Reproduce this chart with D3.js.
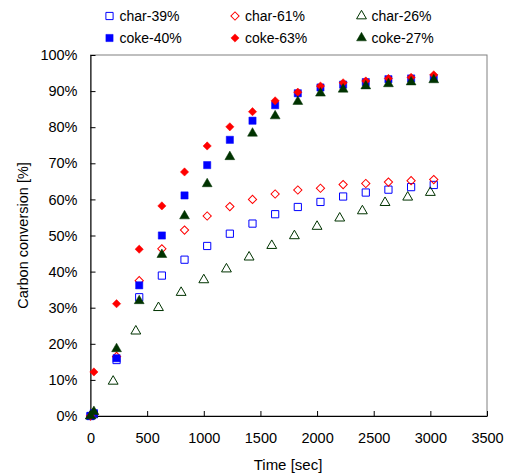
<!DOCTYPE html>
<html>
<head>
<meta charset="utf-8">
<script src="https://cdn.jsdelivr.net/npm/d3@7"></script>
<style>
  body { margin: 0; background: #fff; }
  text { font-family: "Liberation Sans", Arial, sans-serif; fill: #000; }
</style>
</head>
<body>
<div id="chart"></div>
<script>
// sampling times (sec)
const timeA = [0, 30, 230, 430, 630, 830, 1030, 1230, 1430, 1630, 1830, 2030, 2230, 2430, 2630, 2830, 3030];
const timeB = [0, 20, 200, 400, 600, 800, 1000, 1200, 1400, 1600, 1800, 2000, 2200, 2400, 2600, 2800, 3000];

// carbon conversion (%)
const char39 = [0, 0.5, 15.5, 32.9, 38.9, 43.3, 47.1, 50.5, 53.3, 55.9, 57.9, 59.3, 60.8, 61.9, 62.7, 63.4, 64.0];
const char61 = [0, 0.5, 16.5, 37.5, 46.3, 51.5, 55.4, 58.0, 60.0, 61.5, 62.6, 63.1, 64.1, 64.4, 64.8, 65.2, 65.5];
const char26 = [0, 0.5, 9.6, 23.5, 30.0, 34.2, 37.7, 40.7, 44.0, 47.2, 49.9, 52.5, 54.8, 56.8, 59.1, 60.6, 61.9];
const coke40 = [0, 0.8, 16.0, 36.2, 50.0, 61.1, 69.5, 76.5, 81.8, 86.1, 89.4, 91.0, 91.8, 92.5, 93.3, 93.5, 93.6];
const coke63 = [0, 12.2, 31.1, 46.2, 58.2, 67.6, 74.8, 80.1, 84.3, 87.3, 89.7, 91.4, 92.3, 92.8, 93.5, 93.8, 94.5];
const coke27 = [0, 1.2, 18.6, 31.9, 44.7, 55.4, 64.3, 71.8, 78.3, 83.1, 87.1, 89.4, 90.5, 91.4, 92.0, 92.5, 93.1];

const xTicks = [0, 500, 1000, 1500, 2000, 2500, 3000, 3500];
const yTicks = [0, 10, 20, 30, 40, 50, 60, 70, 80, 90, 100];

const series = [
  {name: "char-39%", t: timeA, v: char39, shape: "square", color: "#0000ff", filled: false},
  {name: "char-61%", t: timeA, v: char61, shape: "diamond", color: "#ff0000", filled: false},
  {name: "char-26%", t: timeB, v: char26, shape: "triangle", color: "#003300", filled: false},
  {name: "coke-40%", t: timeA, v: coke40, shape: "square", color: "#0000ff", filled: true},
  {name: "coke-63%", t: timeA, v: coke63, shape: "diamond", color: "#ff0000", filled: true},
  {name: "coke-27%", t: timeA, v: coke27, shape: "triangle", color: "#003300", filled: true}
];

const W = 507, H = 476;
const margin = {top: 55, right: 20, bottom: 60, left: 90.5};
const width = W - margin.left - margin.right,
      height = H - margin.top - margin.bottom;

const svg = d3.select("#chart").append("svg")
  .attr("width", W).attr("height", H);

const g = svg.append("g")
  .attr("transform", "translate(" + margin.left + "," + margin.top + ")");

const x = d3.scaleLinear().domain([0, 3500]).range([0, width]);
const y = d3.scaleLinear().domain([0, 100]).range([height, 0]);

// plot frame
g.append("rect")
  .attr("x", 0).attr("y", 0)
  .attr("width", width).attr("height", height)
  .attr("fill", "none").attr("stroke", "#808080").attr("stroke-width", 1);

// axes, ticks pointing inward
const xAxis = g.append("g")
  .attr("transform", "translate(0," + height + ")")
  .call(d3.axisBottom(x).tickValues(xTicks).tickSizeInner(-5).tickSizeOuter(0).tickPadding(17)
    .tickFormat(d3.format("d")));
const yAxis = g.append("g")
  .call(d3.axisLeft(y).tickValues(yTicks).tickSizeInner(-5).tickSizeOuter(0).tickPadding(13)
    .tickFormat(function(d) { return d + "%"; }));

[xAxis, yAxis].forEach(function(a) {
  a.select(".domain").attr("stroke", "#000");
  a.selectAll(".tick line").attr("stroke", "#000");
  a.selectAll("text").attr("font-size", 14.5).attr("font-family", "Liberation Sans, Arial, sans-serif");
});

// axis titles
svg.append("text")
  .attr("x", 288).attr("y", 470)
  .attr("text-anchor", "middle").attr("font-size", 15)
  .text("Time [sec]");

svg.append("text")
  .attr("transform", "translate(28," + (margin.top + height / 2) + ") rotate(-90)")
  .attr("text-anchor", "middle").attr("font-size", 14.5)
  .text("Carbon conversion [%]");

// marker builder
function marker(sel, shape) {
  if (shape === "square") {
    sel.attr("d", d3.symbol().type(d3.symbolSquare).size(52)());
  } else if (shape === "diamond") {
    sel.attr("d", d3.symbol().type(d3.symbolSquare).size(34)());
  } else {
    sel.attr("d", d3.symbol().type(d3.symbolTriangle).size(42)());
  }
}

function styleMarker(sel, s) {
  sel.attr("fill", s.filled ? s.color : "none")
     .attr("stroke", s.color)
     .attr("stroke-width", s.filled ? 0.5 : 1);
}

series.forEach(function(s) {
  const pts = s.t.map(function(t, i) { return {t: t, v: s.v[i]}; });
  const rot = s.shape === "diamond" ? " rotate(45)" : "";
  g.append("g").selectAll("path")
    .data(pts)
    .enter()
    .append("path")
      .call(marker, s.shape)
      .call(styleMarker, s)
      .attr("transform", function(d) {
        return "translate(" + x(d.t) + "," + y(d.v) + ")" + rot;
      });
});

// legend
const legendCols = [109.5, 235, 361.5];
const legendRows = [16, 38];
series.forEach(function(s, i) {
  const cx = legendCols[i % 3], cy = legendRows[Math.floor(i / 3)];
  const rot = s.shape === "diamond" ? " rotate(45)" : "";
  svg.append("path")
    .call(marker, s.shape)
    .call(styleMarker, s)
    .attr("transform", "translate(" + cx + "," + cy + ")" + rot);
  svg.append("text")
    .attr("x", cx + 10).attr("y", cy + 5)
    .attr("font-size", 14)
    .text(s.name);
});
</script>
</body>
</html>
